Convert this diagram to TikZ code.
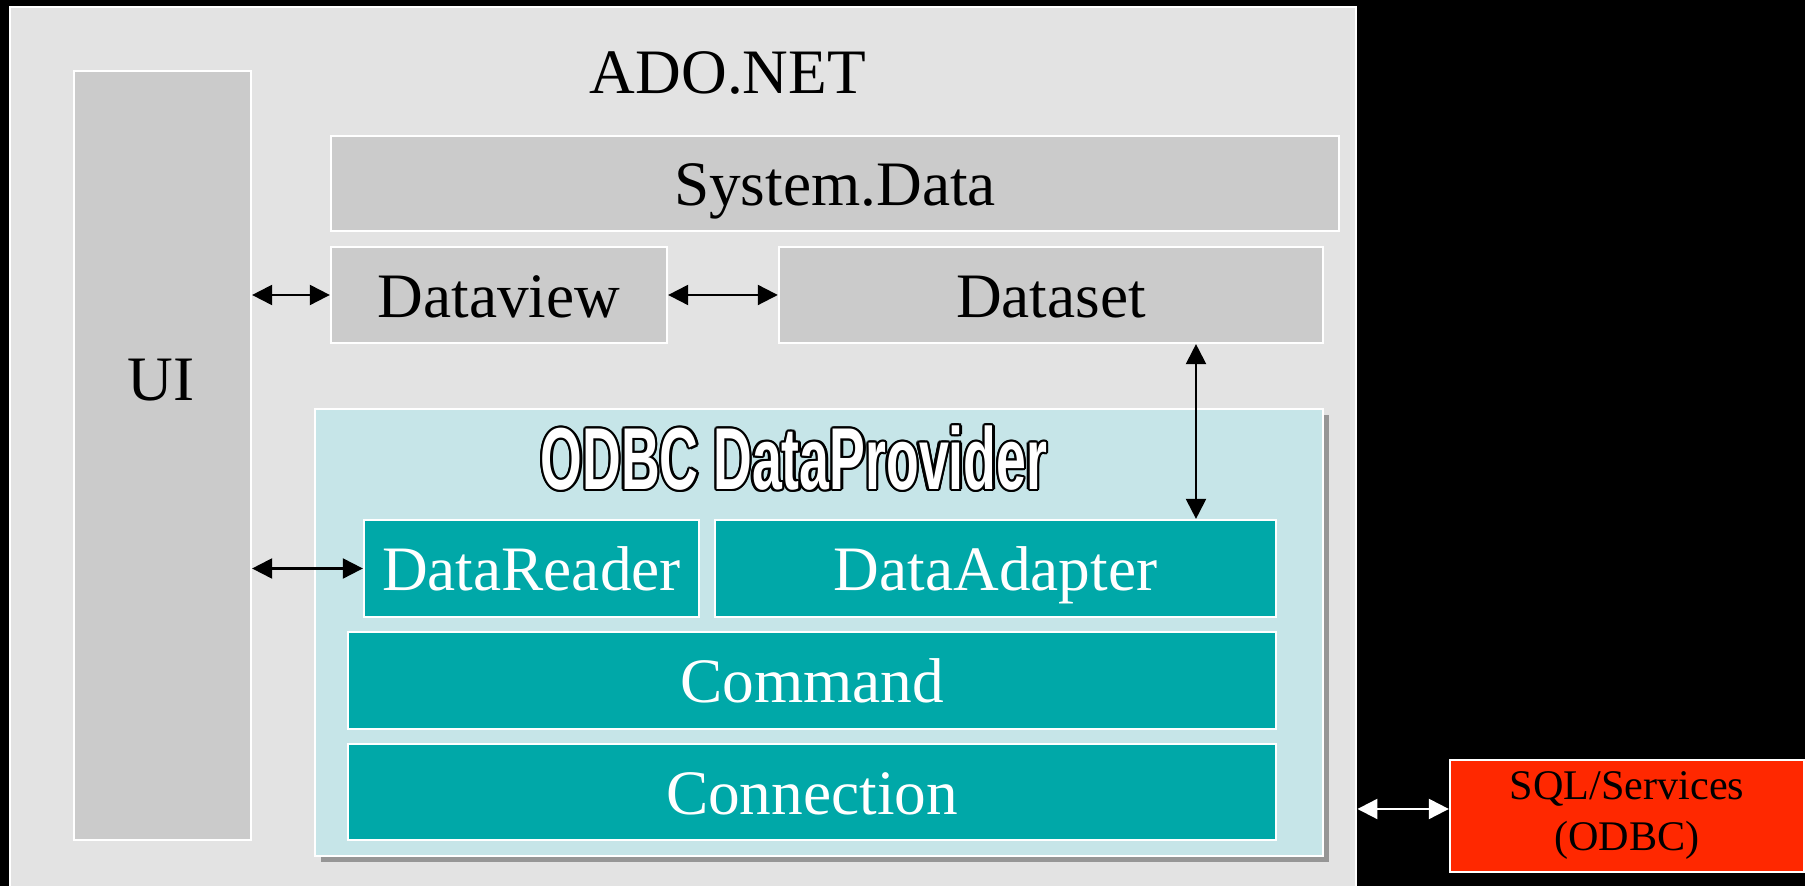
\documentclass[tikz,border=0pt]{standalone}
\usepackage{fontspec}
\setmainfont{Liberation Serif}
\newfontfamily\odbcfont{Liberation Sans}
\usepackage{tikz}
\usetikzlibrary{arrows.meta}
\usetikzlibrary{shadows}
\usetikzlibrary{calc}

\definecolor{adogray}{RGB}{227,227,227}
\definecolor{boxgray}{RGB}{203,203,203}
\definecolor{odbcblue}{RGB}{198,229,232}
\definecolor{provteal}{RGB}{0,168,168}
\definecolor{sqlred}{RGB}{255,40,0}
\definecolor{shadowgray}{RGB}{150,150,150}

\begin{document}
\begin{tikzpicture}[x=0.01cm, y=-0.01cm,
  title/.style={inner sep=0pt, text height=12.6pt, text depth=0pt, font=\fontsize{18}{22}\selectfont},
  box/.style={title, draw=white, line width=0.6pt},
  graybox/.style={box, fill=boxgray},
  tealbox/.style={box, fill=provteal, text=white},
  odbctitle/.style={inner sep=0pt, font=\odbcfont\bfseries\fontsize{25}{30}\selectfont},
  link/.style={{Triangle[length=0.2cm,width=0.2cm]}-{Triangle[length=0.2cm,width=0.2cm]}, line width=0.6pt}]
\useasboundingbox (0,0) rectangle (1805,886);
\fill[black] (0,0) rectangle (1805,886);

% ADO.NET panel
\node[box, fill=adogray, minimum width=13.46cm, minimum height=9cm] (ado) at (683,457) {};
\node[title] (adotitle) at (728,71) {ADO.NET};

\node[graybox, minimum width=1.77cm, minimum height=7.69cm] (ui) at (162.5,455.5) {};
\node[title] (uitext) at (161,378) {UI};

\node[graybox, minimum width=10.08cm, minimum height=0.95cm] (system) at (835,183.5) {System.Data};
\node[graybox, minimum width=3.36cm, minimum height=0.96cm] (dataview) at (499,295) {Dataview};
\node[graybox, minimum width=5.44cm, minimum height=0.96cm] (dataset) at (1051,295) {Dataset};

% ODBC provider
\node[box, fill=odbcblue, drop shadow={shadow xshift=0.06cm, shadow yshift=-0.06cm, opacity=1, fill=shadowgray},
  minimum width=10.08cm, minimum height=4.47cm] (odbc) at (819,632.5) {};
\foreach\ang in {0,30,...,330}
  \node[odbctitle, text=black] (odbcshade\ang) at ($(794,458)+(\ang:2.4)$) {\scalebox{0.61}[1]{ODBC DataProvider}};
\node[odbctitle, text=white] (odbctext) at (794,458) {\scalebox{0.61}[1]{ODBC DataProvider}};

\node[tealbox, minimum width=3.35cm, minimum height=0.97cm] (datareader) at (531.5,568.5) {DataReader};
\node[tealbox, minimum width=5.61cm, minimum height=0.97cm] (dataadapter) at (995.5,568.5) {DataAdapter};
\node[tealbox, minimum width=9.28cm, minimum height=0.97cm] (command) at (812,680.5) {Command};
\node[tealbox, minimum width=9.28cm, minimum height=0.96cm] (connection) at (812,792) {Connection};

\node[draw=white, line width=0.6pt, fill=sqlred, inner sep=0pt, align=center,
  minimum width=3.54cm, minimum height=1.12cm, font=\fontsize{12}{14.5}\selectfont] (sql) at (1627,816) {SQL/Services\\(ODBC)};

% links
\coordinate (adlink) at (1196,0);
\draw[link] (ui.east |- dataview.west) -- (dataview.west);
\draw[link] (dataview.east) -- (dataset.west);
\draw[link] (ui.east |- datareader.west) -- (datareader.west);
\draw[link] (dataset.south -| adlink) -- (dataadapter.north -| adlink);
\draw[link, white] ([yshift=0.07cm]sql.west) -- ([yshift=0.07cm]sql.west -| ado.east);
\end{tikzpicture}
\end{document}
